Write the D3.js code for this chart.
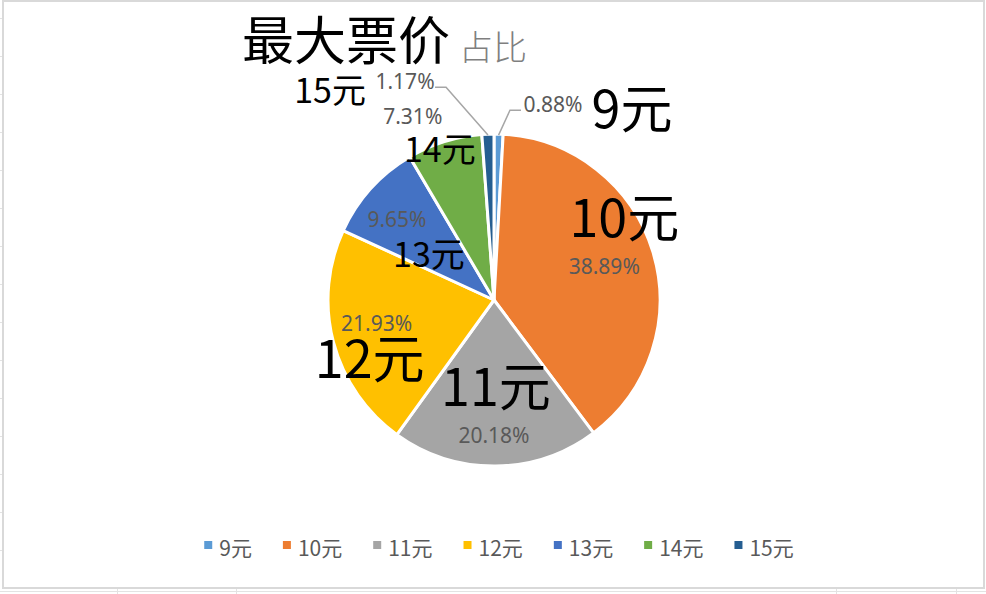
<!DOCTYPE html>
<html>
<head>
<meta charset="utf-8">
<script src="https://cdn.jsdelivr.net/npm/d3@7/dist/d3.min.js"></script>
<style>
  html, body { margin: 0; padding: 0; background: #fff; }
  svg { display: block; }
</style>
</head>
<body>
<svg id="chart" width="986" height="594"></svg>
<script>
// ---- data ----
const categories = ["9元", "10元", "11元", "12元", "13元", "14元", "15元"];
const shares = [0.88, 38.89, 20.18, 21.93, 9.65, 7.31, 1.17];
const percentLabels = ["0.88%", "38.89%", "20.18%", "21.93%", "9.65%", "7.31%", "1.17%"];
const titleMain = "最大票价";
const titleSub = "占比";

// ---- styles ----
const colors = ["#5B9BD5", "#ED7D31", "#A5A5A5", "#FFC000", "#4472C4", "#70AD47", "#255E91"];
const W = 986, H = 594;
const cx = 494, cy = 300, R = 166;
const cjk = "'Noto Sans CJK SC', 'Noto Sans', sans-serif";
const latin = "'Noto Sans', 'Open Sans', sans-serif";

const svg = d3.select("#chart");

// spreadsheet gridlines outside the chart box
const grid = svg.append("g").attr("stroke", "#e3e3e3").attr("stroke-width", 1);
d3.range(18, 588, 38).forEach(y => grid.append("line").attr("x1", 0).attr("x2", 3).attr("y1", y + 0.5).attr("y2", y + 0.5));
grid.append("line").attr("x1", 0).attr("x2", W).attr("y1", 591.5).attr("y2", 591.5);
[117, 236, 836, 956].forEach(x => grid.append("line").attr("x1", x + 0.5).attr("x2", x + 0.5).attr("y1", 588).attr("y2", 594));

// chart area border
svg.append("rect")
  .attr("x", 3).attr("y", 1).attr("width", 981).attr("height", 587)
  .attr("fill", "#fff").attr("stroke", "#d9d9d9").attr("stroke-width", 2);

// title
const title = svg.append("text").attr("x", 242).attr("y", 60);
title.append("tspan").text(titleMain)
  .attr("font-family", cjk).attr("font-size", 52).attr("fill", "#000");
title.append("tspan").text(titleSub).attr("dx", 9)
  .attr("font-family", cjk).attr("font-size", 34).attr("font-weight", 300).attr("fill", "#7f7f7f");

// pie
const pie = d3.pie().sort(null).value(d => d)
  .startAngle(0).endAngle(2 * Math.PI);
const arcs = pie(shares);
const arc = d3.arc().innerRadius(0).outerRadius(R);
const arcMid = d3.arc().innerRadius(R * 0.65).outerRadius(R * 0.65);

const g = svg.append("g").attr("transform", `translate(${cx},${cy})`);
g.selectAll("path.slice").data(arcs).enter().append("path")
  .attr("class", "slice")
  .attr("d", arc)
  .attr("fill", (d, i) => colors[i])
  .attr("stroke", "#fff")
  .attr("stroke-width", 3)
  .attr("stroke-linejoin", "round");

// label offsets relative to the slice centroid (name, percent)
const nameOff = [[135, -64], [27, -32], [1, -2], [-20, 51], [15, 39], [-22, -35], [-160, -89]];
const pctOff  = [[56, -80], [7, 5], [-1, 35], [-13, 4], [-17, -1], [-49, -73], [-85, -103]];
const nameSize = [52, 52, 52, 52, 34, 34, 34];

const labels = svg.append("g");
arcs.forEach((d, i) => {
  const c = arcMid.centroid(d);
  const px = cx + c[0] + pctOff[i][0], py = cy + c[1] + pctOff[i][1];
  const nx = cx + c[0] + nameOff[i][0], ny = cy + c[1] + nameOff[i][1];

  // leader lines for the two thin slices
  if (i === 0 || i === 6) {
    const a = (d.startAngle + d.endAngle) / 2;
    const sx = cx + (R - 1) * Math.sin(a), sy = cy - (R - 1) * Math.cos(a);
    const dir = i === 0 ? -1 : 1;
    const hw = i === 0 ? 32 : 30;
    const ex = px + dir * hw, ey = py - 2;
    const elx = ex + dir * 11;
    labels.append("polyline")
      .attr("points", `${sx},${sy} ${elx},${ey} ${ex},${ey}`)
      .attr("fill", "none").attr("stroke", "#a6a6a6").attr("stroke-width", 1.5);
  }

  labels.append("text")
    .attr("x", px).attr("y", py)
    .attr("text-anchor", "middle")
    .attr("font-family", latin).attr("font-size", 21)
    .attr("fill", "#595959")
    .text(percentLabels[i]);

  labels.append("text")
    .attr("x", nx).attr("y", ny)
    .attr("text-anchor", "middle")
    .attr("font-family", cjk).attr("font-size", nameSize[i])
    .attr("fill", "#000")
    .text(categories[i]);
});

// legend
const legend = svg.append("g");
const items = legend.selectAll("g.item").data(categories).enter().append("g").attr("class", "item");
items.append("rect").attr("width", 8).attr("height", 8).attr("y", 541)
  .attr("fill", (d, i) => colors[i]);
items.append("text").attr("x", 15).attr("y", 556)
  .attr("font-family", cjk).attr("font-size", 21).attr("fill", "#595959")
  .text(d => d);
const widths = [];
items.each(function () {
  const w = d3.select(this).select("text").node().getComputedTextLength();
  widths.push(15 + w);
});
const gap = 31;
const total = d3.sum(widths) + gap * (widths.length - 1);
let start = 499 - total / 2;
items.attr("transform", (d, i) => {
  const x = start;
  start += widths[i] + gap;
  return `translate(${x},0)`;
});
</script>
</body>
</html>
